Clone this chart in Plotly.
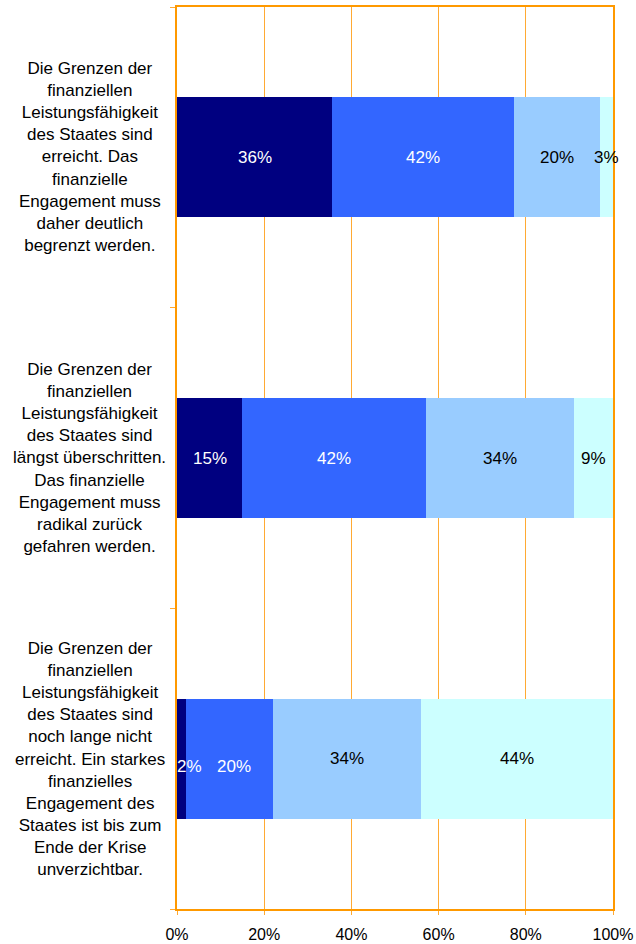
import plotly.graph_objects as go

categories = [
    "Die Grenzen der<br>finanziellen<br>Leistungsfähigkeit<br>des Staates sind<br>erreicht. Das<br>finanzielle<br>Engagement muss<br>daher deutlich<br>begrenzt werden.",
    "Die Grenzen der<br>finanziellen<br>Leistungsfähigkeit<br>des Staates sind<br>längst überschritten.<br>Das finanzielle<br>Engagement muss<br>radikal zurück<br>gefahren werden.",
    "Die Grenzen der<br>finanziellen<br>Leistungsfähigkeit<br>des Staates sind<br>noch lange nicht<br>erreicht. Ein starkes<br>finanzielles<br>Engagement des<br>Staates ist bis zum<br>Ende der Krise<br>unverzichtbar.",
]
series_names = ["S1", "S2", "S3", "S4"]
s1 = [36, 15, 2]
s2 = [42, 42, 20]
s3 = [20, 34, 34]
s4 = [3, 9, 44]
series = [s1, s2, s3, s4]
colors = ["#000080", "#3366FF", "#99CCFF", "#CCFFFF"]
text_colors = ["white", "white", "black", "black"]
tick_vals = [0, 20, 40, 60, 80, 100]
tick_text = ["0%", "20%", "40%", "60%", "80%", "100%"]

FONT = "Liberation Sans, Arial, sans-serif"
ORANGE = "#FF9900"

fig = go.Figure()
for name, vals, col in zip(series_names, series, colors):
    fig.add_trace(go.Bar(
        y=list(range(len(categories))), x=vals, name=name, orientation="h",
        marker=dict(color=col, line=dict(width=0)), hoverinfo="x"))

# data labels at segment centres (normalized)
label_shift = {(2, 0): (8, -8), (2, 1): (5, -8)}
for ci in range(len(categories)):
    total = sum(s[ci] for s in series)
    cum = 0
    for si, s in enumerate(series):
        v = s[ci] / total * 100
        xs, ys = label_shift.get((ci, si), (0, 0))
        fig.add_annotation(x=cum + v / 2, y=ci, xref="x", yref="y",
                           text=f"{s[ci]}%", showarrow=False,
                           xshift=xs, yshift=ys,
                           font=dict(family=FONT, size=17, color=text_colors[si]))
        cum += v

# category labels
for ci, c in enumerate(categories):
    fig.add_annotation(x=-0.2, y=ci, xref="paper", yref="y", text=c,
                       showarrow=False, align="center", xanchor="center",
                       yanchor="middle",
                       font=dict(family=FONT, size=17, color="black"))

fig.update_layout(
    barmode="stack", barnorm="percent", bargap=0.6,
    width=636, height=944,
    margin=dict(l=177, r=23, t=7, b=35, autoexpand=False),
    paper_bgcolor="white", plot_bgcolor="white",
    showlegend=False,
    font=dict(family=FONT, size=16, color="black"),
)
fig.update_xaxes(range=[0, 100], tickvals=tick_vals, ticktext=tick_text,
                 showgrid=True, gridcolor="#FFAA33", gridwidth=1,
                 showline=True, linecolor=ORANGE, linewidth=2, mirror=True,
                 ticks="outside", ticklen=4, tickcolor="#FFAA33",
                 ticklabelstandoff=6,
                 tickfont=dict(family=FONT, size=16, color="black"),
                 zeroline=False, fixedrange=True, automargin=False)
fig.update_yaxes(range=[2.5, -0.5], tickvals=[-0.5, 0.5, 1.5, 2.5],
                 showticklabels=False, showgrid=False,
                 showline=True, linecolor=ORANGE, linewidth=2, mirror=True,
                 ticks="outside", ticklen=5, tickcolor="#FFAA33",
                 zeroline=False, fixedrange=True, automargin=False)

fig.write_html("out.html")
